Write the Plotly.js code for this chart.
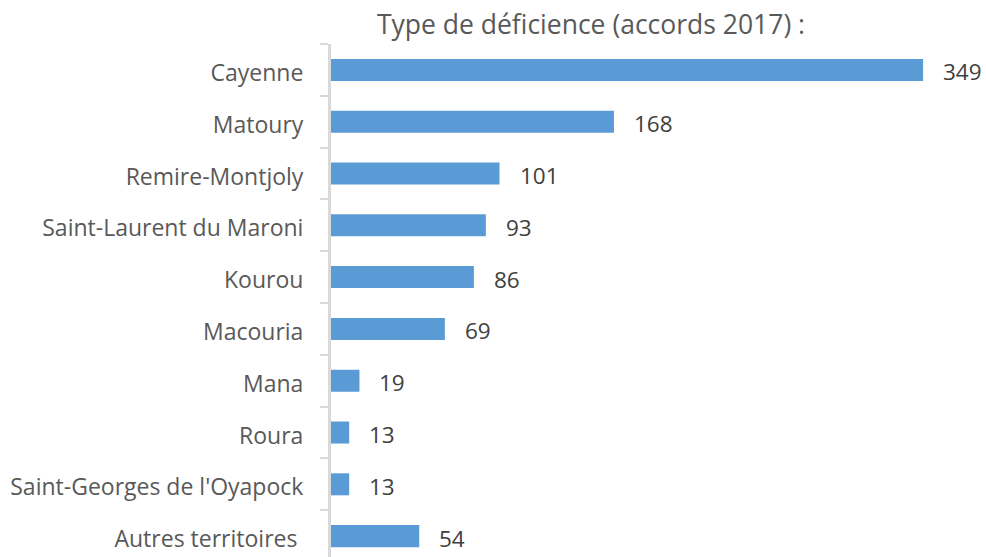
<!DOCTYPE html>
<html>
<head>
<meta charset="utf-8">
<script src="https://cdn.plot.ly/plotly-3.0.1.min.js"></script>
<style>html,body{margin:0;padding:0;background:#fff;}#chart{width:986px;height:557px;}</style>
</head>
<body>
<div id="chart"></div>
<script>
const titleText = "Type de déficience (accords 2017) :";
const categories = ["Cayenne", "Matoury", "Remire-Montjoly", "Saint-Laurent du Maroni", "Kourou", "Macouria", "Mana", "Roura", "Saint-Georges de l'Oyapock", "Autres territoires\u00a0"];
const values = [349, 168, 101, 93, 86, 69, 19, 13, 13, 54];

const barColor = "#5B9BD5";
const labelFont = {family: "Open Sans, Noto Sans, sans-serif", size: 23, color: "#595959"};

const trace = {
  type: "bar",
  orientation: "h",
  x: values,
  y: categories,
  marker: {color: barColor},
  hoverinfo: "none"
};

const annotations = values.map((v, i) => ({
  x: v, y: categories[i], xref: "x", yref: "y",
  text: String(v), showarrow: false,
  xanchor: "left", yanchor: "middle", xshift: 18, yshift: -2,
  font: {family: "Open Sans, Noto Sans, sans-serif", size: 22.5, color: "#404040"}
}));

const layout = {
  width: 986, height: 557,
  margin: {l: 331, r: 0, t: 44, b: 0, pad: 0},
  paper_bgcolor: "#ffffff", plot_bgcolor: "#ffffff",
  showlegend: false,
  bargap: 0.575,
  title: {
    text: titleText,
    font: {family: "Open Sans, Noto Sans, sans-serif", size: 26.5, color: "#595959"},
    x: 591/986, xref: "container", xanchor: "center",
    y: 1 - 25/557, yref: "container", yanchor: "middle"
  },
  xaxis: {
    range: [2.34, 2.34 + 655/1.708],
    visible: false, fixedrange: true
  },
  yaxis: {
    type: "category",
    range: [9.403, -0.5],
    showline: true, linecolor: "#d9d9d9", linewidth: 3,
    ticks: "outside", ticklen: 8, tickwidth: 2, tickcolor: "#d9d9d9",
    tickson: "boundaries",
    showgrid: false, zeroline: false,
    tickfont: labelFont,
    ticklabelstandoff: 20,
    ticklabelshift: -3,
    automargin: false
  },
  annotations: annotations
};

Plotly.newPlot("chart", [trace], layout, {staticPlot: true, displayModeBar: false});
</script>
</body>
</html>
